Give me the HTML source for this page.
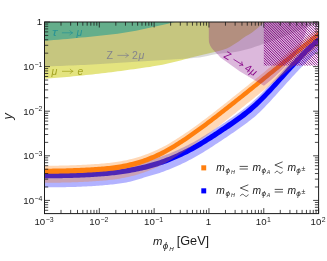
<!DOCTYPE html>
<html><head><meta charset="utf-8"><title>plot</title>
<style>
html,body{margin:0;padding:0;background:#fff;}
body{width:327px;height:261px;overflow:hidden;font-family:"Liberation Sans",sans-serif;}
svg{display:block;font-family:"Liberation Sans",sans-serif;}
</style></head><body>
<svg width="327" height="261" viewBox="0 0 327 261">
<defs>
<filter id="idf" x="0" y="0" width="327" height="261" filterUnits="userSpaceOnUse" color-interpolation-filters="sRGB"><feOffset dx="0" dy="0"/></filter>
<clipPath id="cp"><rect x="44.5" y="22.0" width="274.1" height="191.6"/></clipPath>
<clipPath id="hc"><rect x="263.8" y="22.0" width="54.80000000000001" height="43.8"/></clipPath>
</defs>
<rect width="327" height="261" fill="#fff"/>
<g clip-path="url(#cp)">
<polygon points="44.50,22.00 44.50,78.80 47.69,78.56 50.88,78.32 54.07,78.06 57.25,77.80 60.44,77.53 63.63,77.25 66.82,76.96 70.01,76.67 73.20,76.37 76.38,76.06 79.57,75.75 82.76,75.43 85.95,75.10 89.14,74.76 92.33,74.41 95.51,74.06 98.70,73.69 101.89,73.32 105.08,72.93 108.27,72.54 111.46,72.14 114.64,71.73 117.83,71.32 121.02,70.90 124.21,70.47 127.40,70.04 130.59,69.62 133.78,69.18 136.96,68.74 140.15,68.30 143.34,67.84 146.53,67.37 149.72,66.88 152.91,66.37 156.09,65.83 159.28,65.28 162.47,64.69 165.66,64.07 168.85,63.37 172.04,62.60 175.22,61.79 178.41,60.96 181.60,60.13 184.79,59.32 187.98,58.47 191.17,57.61 194.36,56.75 197.54,55.91 200.73,55.13 203.92,54.41 207.11,53.73 210.30,53.04 213.49,52.30 216.67,51.50 219.86,50.67 223.05,49.75 226.24,48.66 229.43,47.22 232.62,45.36 235.80,43.32 238.99,41.13 242.18,38.77 245.37,36.62 248.56,34.72 251.75,32.65 254.93,30.33 258.12,27.76 261.31,24.87 264.50,21.50" fill="rgb(201,201,0)" fill-opacity="0.5"/>
<polygon points="44.50,22.00 44.50,66.50 48.47,66.37 52.44,66.23 56.42,66.08 60.39,65.93 64.36,65.77 68.33,65.61 72.31,65.43 76.28,65.26 80.25,65.08 84.22,64.89 88.20,64.69 92.17,64.49 96.14,64.27 100.11,64.04 104.09,63.81 108.06,63.58 112.03,63.33 116.00,63.09 119.98,62.85 123.95,62.60 127.92,62.36 131.89,62.11 135.87,61.86 139.84,61.60 143.81,61.34 147.78,61.08 151.76,60.81 155.73,60.55 159.70,60.29 163.67,60.02 167.65,59.76 171.62,59.50 175.59,59.24 179.56,58.96 183.54,58.68 187.51,58.41 191.48,58.15 195.45,57.84 199.43,57.46 203.40,56.86 207.37,55.98 211.34,55.02 215.32,54.21 219.29,53.70 223.26,53.34 227.23,53.02 231.21,52.60 235.18,52.00 239.15,51.21 243.12,50.28 247.10,49.25 251.07,48.15 255.04,46.86 259.01,45.46 262.99,44.06 266.96,42.69 270.93,41.30 274.90,39.88 278.88,38.42 282.85,36.92 286.82,35.37 290.79,33.78 294.77,32.16 298.74,30.52 302.71,28.87 306.68,27.18 310.66,25.46 314.63,23.72 318.60,21.96 318.60,22.00" fill="rgb(128,128,128)" fill-opacity="0.3"/>
<polygon points="44.50,22.00 44.50,40.80 49.07,40.44 53.64,40.07 58.21,39.69 62.78,39.29 67.34,38.88 71.91,38.46 76.48,38.03 81.05,37.59 85.62,37.14 90.19,36.69 94.76,36.24 99.33,35.77 103.90,35.29 108.47,34.79 113.03,34.26 117.60,33.68 122.17,33.06 126.74,32.37 131.31,31.54 135.88,30.63 140.45,29.71 145.02,28.77 149.59,27.80 154.16,26.80 158.72,25.79 163.29,24.75 167.86,23.69 172.43,22.61 177.00,21.50" fill="rgb(2,150,152)" fill-opacity="0.5"/>
<polygon points="42.50,169.94 44.25,169.93 46.00,169.92 47.75,169.90 49.50,169.89 51.25,169.88 52.99,169.86 54.74,169.84 56.49,169.82 58.24,169.80 59.99,169.78 61.74,169.75 63.49,169.72 65.24,169.69 66.99,169.65 68.74,169.61 70.48,169.56 72.23,169.51 73.98,169.46 75.73,169.40 77.48,169.34 79.23,169.27 80.98,169.20 82.73,169.12 84.48,169.03 86.23,168.94 87.98,168.85 89.72,168.75 91.47,168.65 93.22,168.54 94.97,168.43 96.72,168.31 98.47,168.18 100.22,168.05 101.97,167.92 103.72,167.77 105.47,167.62 107.22,167.45 108.96,167.28 110.71,167.10 112.46,166.92 114.21,166.72 115.96,166.51 117.71,166.28 119.46,166.05 121.21,165.81 122.96,165.55 124.71,165.28 126.45,165.00 128.20,164.72 129.95,164.42 131.70,164.11 133.45,163.79 135.20,163.46 136.95,163.11 138.70,162.75 140.45,162.37 142.20,161.97 143.95,161.56 145.69,161.14 147.44,160.69 149.19,160.22 150.94,159.74 152.69,159.25 154.44,158.73 156.19,158.20 157.94,157.65 159.69,157.08 161.44,156.49 163.18,155.87 164.93,155.23 166.68,154.57 168.43,153.89 170.18,153.19 171.93,152.47 173.68,151.74 175.43,150.98 177.18,150.21 178.93,149.42 180.68,148.61 182.42,147.78 184.17,146.93 185.92,146.06 187.67,145.17 189.42,144.27 191.17,143.34 192.92,142.39 194.67,141.42 196.42,140.43 198.17,139.42 199.92,138.40 201.66,137.35 203.41,136.28 205.16,135.21 206.91,134.11 208.66,133.00 210.41,131.88 212.16,130.75 213.91,129.61 215.66,128.46 217.41,127.31 219.15,126.14 220.90,124.98 222.65,123.81 224.40,122.63 226.15,121.46 227.90,120.28 229.65,119.10 231.40,117.90 233.15,116.70 234.90,115.48 236.65,114.24 238.39,112.99 240.14,111.71 241.89,110.41 243.64,109.08 245.39,107.72 247.14,106.32 248.89,104.89 250.64,103.43 252.39,101.92 254.14,100.36 255.88,98.77 257.63,97.12 259.38,95.44 261.13,93.72 262.88,91.96 264.63,90.17 266.38,88.35 268.13,86.51 269.88,84.64 271.63,82.75 273.38,80.85 275.12,78.93 276.87,77.00 278.62,75.07 280.37,73.13 282.12,71.19 283.87,69.25 285.62,67.32 287.37,65.39 289.12,63.46 290.87,61.54 292.62,59.64 294.36,57.74 296.11,55.86 297.86,53.99 299.61,52.14 301.36,50.31 303.11,48.50 304.86,46.71 306.61,44.94 308.36,43.20 310.11,41.49 311.85,39.81 313.60,38.16 315.35,36.54 317.10,34.95 318.85,33.40 320.60,31.89 320.60,48.71 318.85,50.23 317.10,51.80 315.35,53.39 313.60,55.03 311.85,56.69 310.11,58.39 308.36,60.11 306.61,61.86 304.86,63.63 303.11,65.43 301.36,67.25 299.61,69.09 297.86,70.95 296.11,72.82 294.36,74.71 292.62,76.61 290.87,78.52 289.12,80.44 287.37,82.37 285.62,84.30 283.87,86.24 282.12,88.18 280.37,90.12 278.62,92.06 276.87,94.00 275.12,95.93 273.38,97.85 271.63,99.75 269.88,101.64 268.13,103.51 266.38,105.35 264.63,107.17 262.88,108.96 261.13,110.72 259.38,112.44 257.63,114.09 255.88,115.66 254.14,117.16 252.39,118.60 250.64,119.99 248.89,121.32 247.14,122.63 245.39,123.91 243.64,125.18 241.89,126.44 240.14,127.71 238.39,128.98 236.65,130.23 234.90,131.45 233.15,132.66 231.40,133.86 229.65,135.05 227.90,136.22 226.15,137.39 224.40,138.56 222.65,139.73 220.90,140.89 219.15,142.05 217.41,143.21 215.66,144.36 213.91,145.50 212.16,146.64 210.41,147.76 208.66,148.88 206.91,149.98 205.16,151.07 203.41,152.14 201.66,153.20 199.92,154.25 198.17,155.27 196.42,156.28 194.67,157.26 192.92,158.23 191.17,159.17 189.42,160.10 187.67,161.00 185.92,161.89 184.17,162.75 182.42,163.60 180.68,164.43 178.93,165.23 177.18,166.02 175.43,166.80 173.68,167.55 171.93,168.28 170.18,169.00 168.43,169.69 166.68,170.37 164.93,171.03 163.18,171.67 161.44,172.29 159.69,172.88 157.94,173.45 156.19,174.00 154.44,174.53 152.69,175.05 150.94,175.54 149.19,176.03 147.44,176.53 145.69,177.06 143.95,177.60 142.20,178.14 140.45,178.69 138.70,179.23 136.95,179.76 135.20,180.28 133.45,180.78 131.70,181.25 129.95,181.69 128.20,182.10 126.45,182.46 124.71,182.78 122.96,183.05 121.21,183.31 119.46,183.55 117.71,183.78 115.96,184.01 114.21,184.22 112.46,184.42 110.71,184.60 108.96,184.78 107.22,184.95 105.47,185.12 103.72,185.27 101.97,185.41 100.22,185.55 98.47,185.68 96.72,185.80 94.97,185.92 93.22,186.03 91.47,186.14 89.72,186.24 87.98,186.34 86.23,186.43 84.48,186.52 82.73,186.60 80.98,186.68 79.23,186.75 77.48,186.82 75.73,186.88 73.98,186.94 72.23,186.99 70.48,187.04 68.74,187.08 66.99,187.12 65.24,187.15 63.49,187.18 61.74,187.21 59.99,187.23 58.24,187.25 56.49,187.27 54.74,187.29 52.99,187.30 51.25,187.31 49.50,187.32 47.75,187.33 46.00,187.34 44.25,187.34 42.50,187.35" fill="#0000ff" fill-opacity="0.3"/>
<polygon points="42.50,173.14 44.25,173.13 46.00,173.12 47.75,173.10 49.50,173.09 51.25,173.08 52.99,173.06 54.74,173.04 56.49,173.02 58.24,173.00 59.99,172.97 61.74,172.95 63.49,172.91 65.24,172.88 66.99,172.84 68.74,172.80 70.48,172.76 72.23,172.71 73.98,172.65 75.73,172.59 77.48,172.53 79.23,172.46 80.98,172.38 82.73,172.30 84.48,172.21 86.23,172.12 87.98,172.03 89.72,171.93 91.47,171.82 93.22,171.71 94.97,171.60 96.72,171.48 98.47,171.35 100.22,171.22 101.97,171.08 103.72,170.93 105.47,170.78 107.22,170.62 108.96,170.44 110.71,170.26 112.46,170.07 114.21,169.87 115.96,169.66 117.71,169.43 119.46,169.20 121.21,168.95 122.96,168.69 124.71,168.42 126.45,168.14 128.20,167.85 129.95,167.55 131.70,167.24 133.45,166.92 135.20,166.58 136.95,166.23 138.70,165.86 140.45,165.48 142.20,165.09 143.95,164.67 145.69,164.24 147.44,163.79 149.19,163.32 150.94,162.84 152.69,162.34 154.44,161.82 156.19,161.28 157.94,160.73 159.69,160.15 161.44,159.55 163.18,158.92 164.93,158.27 166.68,157.60 168.43,156.91 170.18,156.20 171.93,155.47 173.68,154.73 175.43,153.96 177.18,153.18 178.93,152.37 180.68,151.55 182.42,150.71 184.17,149.85 185.92,148.96 187.67,148.06 189.42,147.14 191.17,146.20 192.92,145.24 194.67,144.26 196.42,143.26 198.17,142.24 199.92,141.20 201.66,140.14 203.41,139.06 205.16,137.97 206.91,136.86 208.66,135.74 210.41,134.61 212.16,133.46 213.91,132.31 215.66,131.14 217.41,129.97 219.15,128.79 220.90,127.61 222.65,126.43 224.40,125.24 226.15,124.05 227.90,122.86 229.65,121.66 231.40,120.45 233.15,119.23 234.90,118.00 236.65,116.75 238.39,115.48 240.14,114.19 241.89,112.87 243.64,111.52 245.39,110.15 247.14,108.74 248.89,107.30 250.64,105.82 252.39,104.30 254.14,102.73 255.88,101.12 257.63,99.46 259.38,97.76 261.13,96.02 262.88,94.25 264.63,92.45 266.38,90.61 268.13,88.75 269.88,86.88 271.63,84.98 273.38,83.07 275.12,81.14 276.87,79.21 278.62,77.27 280.37,75.33 282.12,73.39 283.87,71.45 285.62,69.52 287.37,67.59 289.12,65.66 290.87,63.75 292.62,61.84 294.36,59.94 296.11,58.06 297.86,56.20 299.61,54.35 301.36,52.52 303.11,50.71 304.86,48.93 306.61,47.17 308.36,45.43 310.11,43.73 311.85,42.05 313.60,40.41 315.35,38.80 317.10,37.22 318.85,35.68 320.60,34.18 320.60,41.20 318.85,42.72 317.10,44.28 315.35,45.88 313.60,47.51 311.85,49.16 310.11,50.85 308.36,52.57 306.61,54.32 304.86,56.09 303.11,57.88 301.36,59.70 299.61,61.53 297.86,63.38 296.11,65.25 294.36,67.14 292.62,69.03 290.87,70.94 289.12,72.86 287.37,74.79 285.62,76.72 283.87,78.65 282.12,80.59 280.37,82.53 278.62,84.47 276.87,86.40 275.12,88.32 273.38,90.23 271.63,92.13 269.88,94.00 268.13,95.86 266.38,97.69 264.63,99.49 262.88,101.27 261.13,103.01 259.38,104.72 257.63,106.39 255.88,108.01 254.14,109.60 252.39,111.14 250.64,112.63 248.89,114.09 247.14,115.50 245.39,116.88 243.64,118.23 241.89,119.55 240.14,120.83 238.39,122.10 236.65,123.34 234.90,124.56 233.15,125.76 231.40,126.95 229.65,128.13 227.90,129.30 226.15,130.47 224.40,131.62 222.65,132.78 220.90,133.94 219.15,135.09 217.41,136.24 215.66,137.38 213.91,138.52 212.16,139.64 210.41,140.76 208.66,141.87 206.91,142.96 205.16,144.04 203.41,145.11 201.66,146.16 199.92,147.20 198.17,148.21 196.42,149.21 194.67,150.18 192.92,151.14 191.17,152.07 189.42,152.99 187.67,153.88 185.92,154.76 184.17,155.61 182.42,156.45 180.68,157.27 178.93,158.07 177.18,158.84 175.43,159.60 173.68,160.35 171.93,161.07 170.18,161.78 168.43,162.46 166.68,163.13 164.93,163.78 163.18,164.42 161.44,165.02 159.69,165.61 157.94,166.17 156.19,166.72 154.44,167.24 152.69,167.75 150.94,168.24 149.19,168.72 147.44,169.18 145.69,169.63 143.95,170.05 142.20,170.46 140.45,170.85 138.70,171.23 136.95,171.59 135.20,171.93 133.45,172.26 131.70,172.58 129.95,172.89 128.20,173.18 126.45,173.47 124.71,173.74 122.96,174.01 121.21,174.26 119.46,174.51 117.71,174.74 115.96,174.95 114.21,175.16 112.46,175.36 110.71,175.55 108.96,175.73 107.22,175.89 105.47,176.05 103.72,176.20 101.97,176.35 100.22,176.48 98.47,176.61 96.72,176.74 94.97,176.85 93.22,176.96 91.47,177.07 89.72,177.17 87.98,177.27 86.23,177.36 84.48,177.45 82.73,177.53 80.98,177.61 79.23,177.68 77.48,177.75 75.73,177.81 73.98,177.87 72.23,177.92 70.48,177.97 68.74,178.02 66.99,178.06 65.24,178.09 63.49,178.12 61.74,178.15 59.99,178.18 58.24,178.20 56.49,178.23 54.74,178.24 52.99,178.26 51.25,178.28 49.50,178.29 47.75,178.31 46.00,178.32 44.25,178.33 42.50,178.34" fill="#0000ff"/>
<polygon points="42.50,165.88 44.25,165.86 46.00,165.84 47.75,165.82 49.50,165.79 51.25,165.77 52.99,165.74 54.74,165.71 56.49,165.68 58.24,165.64 59.99,165.61 61.74,165.57 63.49,165.53 65.24,165.48 66.99,165.43 68.74,165.38 70.48,165.33 72.23,165.27 73.98,165.21 75.73,165.14 77.48,165.07 79.23,165.00 80.98,164.91 82.73,164.83 84.48,164.74 86.23,164.64 87.98,164.54 89.72,164.44 91.47,164.34 93.22,164.23 94.97,164.12 96.72,164.00 98.47,163.88 100.22,163.74 101.97,163.60 103.72,163.45 105.47,163.28 107.22,163.11 108.96,162.92 110.71,162.72 112.46,162.51 114.21,162.28 115.96,162.03 117.71,161.76 119.46,161.48 121.21,161.18 122.96,160.85 124.71,160.50 126.45,160.14 128.20,159.75 129.95,159.34 131.70,158.91 133.45,158.46 135.20,157.98 136.95,157.48 138.70,156.95 140.45,156.40 142.20,155.82 143.95,155.22 145.69,154.58 147.44,153.92 149.19,153.24 150.94,152.53 152.69,151.80 154.44,151.04 156.19,150.26 157.94,149.45 159.69,148.60 161.44,147.73 163.18,146.82 164.93,145.88 166.68,144.91 168.43,143.91 170.18,142.90 171.93,141.86 173.68,140.80 175.43,139.72 177.18,138.62 178.93,137.51 180.68,136.37 182.42,135.22 184.17,134.05 185.92,132.87 187.67,131.67 189.42,130.46 191.17,129.23 192.92,127.99 194.67,126.73 196.42,125.47 198.17,124.19 199.92,122.91 201.66,121.61 203.41,120.30 205.16,118.99 206.91,117.66 208.66,116.33 210.41,114.99 212.16,113.65 213.91,112.30 215.66,110.94 217.41,109.57 219.15,108.21 220.90,106.83 222.65,105.46 224.40,104.08 226.15,102.69 227.90,101.30 229.65,99.91 231.40,98.52 233.15,97.12 234.90,95.72 236.65,94.32 238.39,92.92 240.14,91.51 241.89,90.10 243.64,88.70 245.39,87.29 247.14,85.88 248.89,84.47 250.64,83.05 252.39,81.64 254.14,80.22 255.88,78.81 257.63,77.39 259.38,75.97 261.13,74.55 262.88,73.13 264.63,71.71 266.38,70.29 268.13,68.86 269.88,67.44 271.63,66.02 273.38,64.59 275.12,63.17 276.87,61.74 278.62,60.32 280.37,58.89 282.12,57.47 283.87,56.04 285.62,54.61 287.37,53.19 289.12,51.76 290.87,50.33 292.62,48.91 294.36,47.48 296.11,46.05 297.86,44.63 299.61,43.20 301.36,41.77 303.11,40.35 304.86,38.92 306.61,37.49 308.36,36.06 310.11,34.64 311.85,33.21 313.60,31.78 315.35,30.36 317.10,28.93 318.85,27.50 320.60,26.08 320.60,43.98 318.85,45.40 317.10,46.83 315.35,48.25 313.60,49.68 311.85,51.10 310.11,52.53 308.36,53.95 306.61,55.38 304.86,56.80 303.11,58.23 301.36,59.65 299.61,61.08 297.86,62.50 296.11,63.92 294.36,65.35 292.62,66.77 290.87,68.19 289.12,69.62 287.37,71.04 285.62,72.46 283.87,73.88 282.12,75.30 280.37,76.73 278.62,78.15 276.87,79.57 275.12,80.99 273.38,82.41 271.63,83.83 269.88,85.24 268.13,86.66 266.38,88.08 264.63,89.49 262.88,90.91 261.13,92.32 259.38,93.74 257.63,95.15 255.88,96.56 254.14,97.97 252.39,99.38 250.64,100.79 248.89,102.20 247.14,103.60 245.39,105.01 243.64,106.41 241.89,107.81 240.14,109.21 238.39,110.60 236.65,112.00 234.90,113.39 233.15,114.78 231.40,116.16 229.65,117.55 227.90,118.93 226.15,120.30 224.40,121.68 222.65,123.05 220.90,124.41 219.15,125.77 217.41,127.13 215.66,128.48 213.91,129.82 212.16,131.16 210.41,132.49 208.66,133.82 206.91,135.14 205.16,136.45 203.41,137.75 201.66,139.05 199.92,140.33 198.17,141.61 196.42,142.88 194.67,144.13 192.92,145.37 191.17,146.61 189.42,147.83 187.67,149.03 185.92,150.22 184.17,151.40 182.42,152.56 180.68,153.71 178.93,154.83 177.18,155.94 175.43,157.04 173.68,158.11 171.93,159.16 170.18,160.19 168.43,161.20 166.68,162.19 164.93,163.16 163.18,164.09 161.44,165.00 159.69,165.87 157.94,166.70 156.19,167.51 154.44,168.29 152.69,169.04 150.94,169.77 149.19,170.47 147.44,171.15 145.69,171.81 143.95,172.43 142.20,173.04 140.45,173.61 138.70,174.16 136.95,174.68 135.20,175.18 133.45,175.65 131.70,176.10 129.95,176.52 128.20,176.93 126.45,177.31 124.71,177.68 122.96,178.02 121.21,178.34 119.46,178.64 117.71,178.92 115.96,179.18 114.21,179.42 112.46,179.65 110.71,179.86 108.96,180.06 107.22,180.24 105.47,180.41 103.72,180.57 101.97,180.72 100.22,180.86 98.47,180.99 96.72,181.11 94.97,181.22 93.22,181.33 91.47,181.44 89.72,181.54 87.98,181.63 86.23,181.72 84.48,181.82 82.73,181.90 80.98,181.99 79.23,182.06 77.48,182.14 75.73,182.20 73.98,182.27 72.23,182.33 70.48,182.38 68.74,182.43 66.99,182.48 65.24,182.52 63.49,182.56 61.74,182.60 59.99,182.64 58.24,182.67 56.49,182.70 54.74,182.73 52.99,182.76 51.25,182.78 49.50,182.81 47.75,182.83 46.00,182.85 44.25,182.87 42.50,182.89" fill="#ff7f0e" fill-opacity="0.3"/>
<polygon points="42.50,168.74 44.25,168.72 46.00,168.70 47.75,168.68 49.50,168.66 51.25,168.64 52.99,168.61 54.74,168.59 56.49,168.56 58.24,168.53 59.99,168.49 61.74,168.46 63.49,168.42 65.24,168.38 66.99,168.34 68.74,168.29 70.48,168.24 72.23,168.18 73.98,168.12 75.73,168.06 77.48,167.99 79.23,167.92 80.98,167.84 82.73,167.76 84.48,167.67 86.23,167.58 87.98,167.49 89.72,167.39 91.47,167.29 93.22,167.19 94.97,167.08 96.72,166.96 98.47,166.84 100.22,166.71 101.97,166.57 103.72,166.42 105.47,166.27 107.22,166.09 108.96,165.91 110.71,165.71 112.46,165.50 114.21,165.28 115.96,165.03 117.71,164.77 119.46,164.49 121.21,164.19 122.96,163.87 124.71,163.52 126.45,163.16 128.20,162.78 129.95,162.37 131.70,161.94 133.45,161.49 135.20,161.02 136.95,160.52 138.70,160.00 140.45,159.45 142.20,158.88 143.95,158.28 145.69,157.65 147.44,156.99 149.19,156.31 150.94,155.61 152.69,154.88 154.44,154.13 156.19,153.34 157.94,152.53 159.69,151.69 161.44,150.82 163.18,149.91 164.93,148.97 166.68,148.00 168.43,147.01 170.18,145.99 171.93,144.95 173.68,143.89 175.43,142.81 177.18,141.72 178.93,140.60 180.68,139.47 182.42,138.31 184.17,137.15 185.92,135.96 187.67,134.77 189.42,133.55 191.17,132.33 192.92,131.09 194.67,129.84 196.42,128.58 198.17,127.31 199.92,126.03 201.66,124.74 203.41,123.44 205.16,122.13 206.91,120.81 208.66,119.49 210.41,118.16 212.16,116.83 213.91,115.49 215.66,114.14 217.41,112.79 219.15,111.43 220.90,110.08 222.65,108.71 224.40,107.34 226.15,105.97 227.90,104.59 229.65,103.22 231.40,101.83 233.15,100.45 234.90,99.06 236.65,97.67 238.39,96.27 240.14,94.88 241.89,93.48 243.64,92.08 245.39,90.68 247.14,89.28 248.89,87.87 250.64,86.47 252.39,85.06 254.14,83.65 255.88,82.24 257.63,80.83 259.38,79.42 261.13,78.00 262.88,76.59 264.63,75.17 266.38,73.76 268.13,72.34 269.88,70.92 271.63,69.51 273.38,68.09 275.12,66.67 276.87,65.25 278.62,63.83 280.37,62.41 282.12,60.99 283.87,59.57 285.62,58.15 287.37,56.73 289.12,55.30 290.87,53.88 292.62,52.46 294.36,51.04 296.11,49.61 297.86,48.19 299.61,46.77 301.36,45.34 303.11,43.92 304.86,42.50 306.61,41.07 308.36,39.65 310.11,38.23 311.85,36.80 313.60,35.38 315.35,33.95 317.10,32.53 318.85,31.10 320.60,29.68 320.60,35.28 318.85,36.70 317.10,38.13 315.35,39.55 313.60,40.98 311.85,42.40 310.11,43.83 308.36,45.25 306.61,46.67 304.86,48.10 303.11,49.52 301.36,50.94 299.61,52.37 297.86,53.79 296.11,55.21 294.36,56.64 292.62,58.06 290.87,59.48 289.12,60.90 287.37,62.33 285.62,63.75 283.87,65.17 282.12,66.59 280.37,68.01 278.62,69.43 276.87,70.85 275.12,72.27 273.38,73.69 271.63,75.11 269.88,76.52 268.13,77.94 266.38,79.36 264.63,80.77 262.88,82.19 261.13,83.60 259.38,85.02 257.63,86.43 255.88,87.84 254.14,89.25 252.39,90.66 250.64,92.07 248.89,93.47 247.14,94.88 245.39,96.28 243.64,97.68 241.89,99.08 240.14,100.48 238.39,101.87 236.65,103.27 234.90,104.66 233.15,106.05 231.40,107.43 229.65,108.82 227.90,110.19 226.15,111.57 224.40,112.94 222.65,114.31 220.90,115.68 219.15,117.03 217.41,118.39 215.66,119.74 213.91,121.08 212.16,122.42 210.41,123.74 208.66,125.07 206.91,126.38 205.16,127.69 203.41,128.99 201.66,130.27 199.92,131.55 198.17,132.82 196.42,134.08 194.67,135.33 192.92,136.57 191.17,137.79 189.42,139.00 187.67,140.20 185.92,141.39 184.17,142.55 182.42,143.71 180.68,144.85 178.93,145.97 177.18,147.07 175.43,148.15 173.68,149.22 171.93,150.26 170.18,151.29 168.43,152.29 166.68,153.27 164.93,154.23 163.18,155.16 161.44,156.06 159.69,156.92 157.94,157.76 156.19,158.56 154.44,159.34 152.69,160.09 150.94,160.81 149.19,161.51 147.44,162.19 145.69,162.84 143.95,163.47 142.20,164.07 140.45,164.64 138.70,165.18 136.95,165.70 135.20,166.20 133.45,166.67 131.70,167.12 129.95,167.54 128.20,167.94 126.45,168.32 124.71,168.69 122.96,169.03 121.21,169.35 119.46,169.64 117.71,169.92 115.96,170.18 114.21,170.42 112.46,170.65 110.71,170.86 108.96,171.05 107.22,171.23 105.47,171.40 103.72,171.56 101.97,171.71 100.22,171.84 98.47,171.97 96.72,172.09 94.97,172.21 93.22,172.31 91.47,172.42 89.72,172.51 87.98,172.61 86.23,172.70 84.48,172.79 82.73,172.88 80.98,172.96 79.23,173.04 77.48,173.11 75.73,173.17 73.98,173.23 72.23,173.29 70.48,173.35 68.74,173.40 66.99,173.44 65.24,173.49 63.49,173.53 61.74,173.56 59.99,173.60 58.24,173.63 56.49,173.66 54.74,173.69 52.99,173.71 51.25,173.74 49.50,173.76 47.75,173.78 46.00,173.80 44.25,173.82 42.50,173.84" fill="#ff7f0e"/>
<polygon points="208.80,21.50 208.80,23.07 208.80,24.64 208.80,26.21 208.80,27.78 208.80,29.35 208.80,30.92 208.80,32.49 208.80,34.06 208.80,35.63 208.81,37.20 208.84,38.77 208.88,40.33 208.99,41.90 209.39,43.47 209.99,45.04 210.71,46.61 211.79,48.18 213.12,49.75 214.56,51.32 216.20,52.89 217.72,54.46 219.10,56.03 220.40,57.60 240.00,71.60 263.90,85.80 265.46,84.60 267.01,83.37 268.57,82.10 270.12,80.81 271.68,79.48 273.23,78.12 274.79,76.73 276.34,75.30 277.90,73.83 279.45,72.34 281.01,70.81 282.56,69.26 284.12,67.69 285.67,66.08 287.23,64.42 288.78,62.69 290.34,60.91 291.89,59.05 293.45,57.10 295.00,55.02 296.56,52.77 298.11,50.32 299.67,47.60 301.22,44.50 302.78,40.90 304.33,36.86 305.89,32.35 307.44,27.20 309.00,21.50" fill="#800080" fill-opacity="0.28"/>
<path d="M217.83 22.00l43.80 43.80M220.40 22.00l43.80 43.80M222.97 22.00l43.80 43.80M225.54 22.00l43.80 43.80M228.11 22.00l43.80 43.80M230.68 22.00l43.80 43.80M233.25 22.00l43.80 43.80M235.82 22.00l43.80 43.80M238.39 22.00l43.80 43.80M240.96 22.00l43.80 43.80M243.53 22.00l43.80 43.80M246.10 22.00l43.80 43.80M248.67 22.00l43.80 43.80M251.24 22.00l43.80 43.80M253.81 22.00l43.80 43.80M256.38 22.00l43.80 43.80M258.95 22.00l43.80 43.80M261.52 22.00l43.80 43.80M264.09 22.00l43.80 43.80M266.66 22.00l43.80 43.80M269.23 22.00l43.80 43.80M271.80 22.00l43.80 43.80M274.37 22.00l43.80 43.80M276.94 22.00l43.80 43.80M279.51 22.00l43.80 43.80M282.08 22.00l43.80 43.80M284.65 22.00l43.80 43.80M287.22 22.00l43.80 43.80M289.79 22.00l43.80 43.80M292.36 22.00l43.80 43.80M294.93 22.00l43.80 43.80M297.50 22.00l43.80 43.80M300.07 22.00l43.80 43.80M302.64 22.00l43.80 43.80M305.21 22.00l43.80 43.80M307.78 22.00l43.80 43.80M310.35 22.00l43.80 43.80M312.92 22.00l43.80 43.80M315.49 22.00l43.80 43.80M318.06 22.00l43.80 43.80M320.63 22.00l43.80 43.80" clip-path="url(#hc)" stroke="#860886" stroke-width="1.0" fill="none"/>
</g>
<g filter="url(#idf)">
<text x="52.0" y="36.1" font-size="10.6" font-style="italic" fill="#2a9494" textLength="5.4" lengthAdjust="spacingAndGlyphs">τ</text><path d="M62.3 32.8H72.5M69.90 30.70Q70.90 32.30 72.5 32.8Q70.90 33.30 69.90 34.90" fill="none" stroke="#2a9494" stroke-width="0.75" stroke-linecap="round"/><text x="76.6" y="36.1" font-size="10.6" font-style="italic" fill="#2a9494">μ</text>
<text x="106.6" y="58.9" font-size="10.6" fill="#84848c">Z</text><path d="M117.8 55.4H128.4M125.80 53.30Q126.80 54.90 128.4 55.4Q126.80 55.90 125.80 57.50" fill="none" stroke="#84848c" stroke-width="0.75" stroke-linecap="round"/><text x="132.0" y="58.9" font-size="10.6" fill="#84848c">2</text><text x="138.6" y="58.9" font-size="10.6" font-style="italic" fill="#84848c">μ</text>
<text x="51.5" y="74.6" font-size="10.6" font-style="italic" fill="#a4a422">μ</text><path d="M62.4 71.3H72.9M70.30 69.20Q71.30 70.80 72.9 71.3Q71.30 71.80 70.30 73.40" fill="none" stroke="#a4a422" stroke-width="0.75" stroke-linecap="round"/><text x="77.4" y="74.6" font-size="10.2" font-style="italic" fill="#a4a422">e</text>
<g transform="translate(240.5,63.3) rotate(32)"><text x="-18.2" y="3.8" font-size="10.6" fill="#8a0a8a">Z</text><path d="M-7.6 0.3H3.0M0.40 -1.80Q1.40 -0.20 3.0 0.3Q1.40 0.80 0.40 2.40" fill="none" stroke="#8a0a8a" stroke-width="0.75" stroke-linecap="round"/><text x="6.4" y="3.8" font-size="10.6" fill="#8a0a8a">4</text><text x="12.8" y="3.8" font-size="10.6" font-style="italic" fill="#8a0a8a">μ</text></g>
</g>
<path d="M44.50 213.6v-5.5M44.50 22.0v5.5M61.00 213.6v-3.7M61.00 22.0v3.7M70.66 213.6v-3.7M70.66 22.0v3.7M77.50 213.6v-3.7M77.50 22.0v3.7M82.82 213.6v-3.7M82.82 22.0v3.7M87.16 213.6v-3.7M87.16 22.0v3.7M90.83 213.6v-3.7M90.83 22.0v3.7M94.01 213.6v-3.7M94.01 22.0v3.7M96.81 213.6v-3.7M96.81 22.0v3.7M99.32 213.6v-5.5M99.32 22.0v5.5M115.82 213.6v-3.7M115.82 22.0v3.7M125.48 213.6v-3.7M125.48 22.0v3.7M132.32 213.6v-3.7M132.32 22.0v3.7M137.64 213.6v-3.7M137.64 22.0v3.7M141.98 213.6v-3.7M141.98 22.0v3.7M145.65 213.6v-3.7M145.65 22.0v3.7M148.83 213.6v-3.7M148.83 22.0v3.7M151.63 213.6v-3.7M151.63 22.0v3.7M154.14 213.6v-5.5M154.14 22.0v5.5M170.64 213.6v-3.7M170.64 22.0v3.7M180.30 213.6v-3.7M180.30 22.0v3.7M187.14 213.6v-3.7M187.14 22.0v3.7M192.46 213.6v-3.7M192.46 22.0v3.7M196.80 213.6v-3.7M196.80 22.0v3.7M200.47 213.6v-3.7M200.47 22.0v3.7M203.65 213.6v-3.7M203.65 22.0v3.7M206.45 213.6v-3.7M206.45 22.0v3.7M208.96 213.6v-5.5M208.96 22.0v5.5M225.46 213.6v-3.7M225.46 22.0v3.7M235.12 213.6v-3.7M235.12 22.0v3.7M241.96 213.6v-3.7M241.96 22.0v3.7M247.28 213.6v-3.7M247.28 22.0v3.7M251.62 213.6v-3.7M251.62 22.0v3.7M255.29 213.6v-3.7M255.29 22.0v3.7M258.47 213.6v-3.7M258.47 22.0v3.7M261.27 213.6v-3.7M261.27 22.0v3.7M263.78 213.6v-5.5M263.78 22.0v5.5M280.28 213.6v-3.7M280.28 22.0v3.7M289.94 213.6v-3.7M289.94 22.0v3.7M296.78 213.6v-3.7M296.78 22.0v3.7M302.10 213.6v-3.7M302.10 22.0v3.7M306.44 213.6v-3.7M306.44 22.0v3.7M310.11 213.6v-3.7M310.11 22.0v3.7M313.29 213.6v-3.7M313.29 22.0v3.7M316.09 213.6v-3.7M316.09 22.0v3.7M318.60 213.6v-5.5M318.60 22.0v5.5M44.5 210.29h3.7M318.6 210.29h-3.7M44.5 207.31h3.7M318.6 207.31h-3.7M44.5 204.72h3.7M318.6 204.72h-3.7M44.5 202.44h3.7M318.6 202.44h-3.7M44.5 200.40h5.5M318.6 200.40h-5.5M44.5 186.97h3.7M318.6 186.97h-3.7M44.5 179.12h3.7M318.6 179.12h-3.7M44.5 173.55h3.7M318.6 173.55h-3.7M44.5 169.23h3.7M318.6 169.23h-3.7M44.5 165.69h3.7M318.6 165.69h-3.7M44.5 162.71h3.7M318.6 162.71h-3.7M44.5 160.12h3.7M318.6 160.12h-3.7M44.5 157.84h3.7M318.6 157.84h-3.7M44.5 155.80h5.5M318.6 155.80h-5.5M44.5 142.37h3.7M318.6 142.37h-3.7M44.5 134.52h3.7M318.6 134.52h-3.7M44.5 128.95h3.7M318.6 128.95h-3.7M44.5 124.63h3.7M318.6 124.63h-3.7M44.5 121.09h3.7M318.6 121.09h-3.7M44.5 118.11h3.7M318.6 118.11h-3.7M44.5 115.52h3.7M318.6 115.52h-3.7M44.5 113.24h3.7M318.6 113.24h-3.7M44.5 111.20h5.5M318.6 111.20h-5.5M44.5 97.77h3.7M318.6 97.77h-3.7M44.5 89.92h3.7M318.6 89.92h-3.7M44.5 84.35h3.7M318.6 84.35h-3.7M44.5 80.03h3.7M318.6 80.03h-3.7M44.5 76.49h3.7M318.6 76.49h-3.7M44.5 73.51h3.7M318.6 73.51h-3.7M44.5 70.92h3.7M318.6 70.92h-3.7M44.5 68.64h3.7M318.6 68.64h-3.7M44.5 66.60h5.5M318.6 66.60h-5.5M44.5 53.17h3.7M318.6 53.17h-3.7M44.5 45.32h3.7M318.6 45.32h-3.7M44.5 39.75h3.7M318.6 39.75h-3.7M44.5 35.43h3.7M318.6 35.43h-3.7M44.5 31.89h3.7M318.6 31.89h-3.7M44.5 28.91h3.7M318.6 28.91h-3.7M44.5 26.32h3.7M318.6 26.32h-3.7M44.5 24.04h3.7M318.6 24.04h-3.7M44.5 22.00h5.5M318.6 22.00h-5.5" stroke="#1a1a1a" stroke-width="0.8" fill="none"/>
<rect x="44.5" y="22.0" width="274.1" height="191.6" fill="none" stroke="#1a1a1a" stroke-width="1.0"/>
<g fill="#1a1a1a" filter="url(#idf)">
<text x="45.26" y="224.9" font-size="9.7" text-anchor="end">10</text><text x="45.66" y="221.60" font-size="6.9">−3</text>
<text x="100.08" y="224.9" font-size="9.7" text-anchor="end">10</text><text x="100.48" y="221.60" font-size="6.9">−2</text>
<text x="154.90" y="224.9" font-size="9.7" text-anchor="end">10</text><text x="155.30" y="221.60" font-size="6.9">−1</text>
<text x="211.1566" y="224.9" font-size="9.7" text-anchor="end">1</text>
<text x="266.55" y="224.9" font-size="9.7" text-anchor="end">10</text><text x="266.95" y="221.60" font-size="6.9">1</text>
<text x="321.38" y="224.9" font-size="9.7" text-anchor="end">10</text><text x="321.77" y="221.60" font-size="6.9">2</text>
<text x="42.2" y="25.4" font-size="9.7" text-anchor="end">1</text>
<text x="34.13" y="70.0" font-size="9.7" text-anchor="end">10</text><text x="34.53" y="66.70" font-size="6.9">−1</text>
<text x="34.13" y="114.6" font-size="9.7" text-anchor="end">10</text><text x="34.53" y="111.30" font-size="6.9">−2</text>
<text x="34.13" y="159.2" font-size="9.7" text-anchor="end">10</text><text x="34.53" y="155.90" font-size="6.9">−3</text>
<text x="34.13" y="203.8" font-size="9.7" text-anchor="end">10</text><text x="34.53" y="200.50" font-size="6.9">−4</text>
<text transform="translate(12.3,116.3) rotate(-90)" text-anchor="middle" font-size="12.6" font-style="italic">y</text>
<text x="153.0" y="245.1" font-size="11.3" font-style="italic">m</text><text x="162.8" y="248.5" font-size="9.8" font-style="italic">ϕ</text><text x="169.2" y="250.7" font-size="6.2" font-style="italic">H</text><text x="176.7" y="245.1" font-size="12.7">[GeV]</text>
<text x="216.3" y="171.0" font-size="10.3" font-style="italic">m</text>
<text x="225.5" y="172.8" font-size="8.1" font-style="italic">ϕ</text>
<text x="230.9" y="174.4" font-size="5.3" font-style="italic">H</text>
<path d="M239.6 166.4H247.9M239.6 169.0H247.9" stroke="#1a1a1a" stroke-width="0.75" fill="none"/>
<text x="252.4" y="171.0" font-size="10.3" font-style="italic">m</text>
<text x="261.5" y="172.8" font-size="8.1" font-style="italic">ϕ</text>
<text x="266.8" y="174.4" font-size="5.3" font-style="italic">A</text>
<path d="M282.6 161.8L274.9 165.0L282.6 168.2M274.9 173.1C276.20 170.70 277.60 170.90 278.75 172.30S281.30 174.00 282.6 171.50" stroke="#1a1a1a" stroke-width="0.75" fill="none" stroke-linejoin="miter"/>
<text x="287.4" y="171.0" font-size="10.3" font-style="italic">m</text>
<text x="296.2" y="172.8" font-size="8.1" font-style="italic">ϕ</text>
<text x="301.6" y="170.9" font-size="7.0">±</text>
<text x="216.3" y="194.0" font-size="10.3" font-style="italic">m</text>
<text x="225.5" y="195.8" font-size="8.1" font-style="italic">ϕ</text>
<text x="230.9" y="197.4" font-size="5.3" font-style="italic">H</text>
<path d="M248.3 184.8L240.3 188.0L248.3 191.2M240.3 196.1C241.60 193.70 243.00 193.90 244.30 195.30S247.00 197.00 248.3 194.50" stroke="#1a1a1a" stroke-width="0.75" fill="none" stroke-linejoin="miter"/>
<text x="252.4" y="194.0" font-size="10.3" font-style="italic">m</text>
<text x="261.5" y="195.8" font-size="8.1" font-style="italic">ϕ</text>
<text x="266.8" y="197.4" font-size="5.3" font-style="italic">A</text>
<path d="M274.7 189.4H283.0M274.7 192.0H283.0" stroke="#1a1a1a" stroke-width="0.75" fill="none"/>
<text x="287.4" y="194.0" font-size="10.3" font-style="italic">m</text>
<text x="296.2" y="195.8" font-size="8.1" font-style="italic">ϕ</text>
<text x="301.6" y="193.9" font-size="7.0">±</text>
</g>
<rect x="201.3" y="165.3" width="4.9" height="5.1" fill="#ff7f0e"/>
<rect x="201.3" y="188.3" width="4.9" height="5.1" fill="#0000ff"/>
</svg>
</body></html>
